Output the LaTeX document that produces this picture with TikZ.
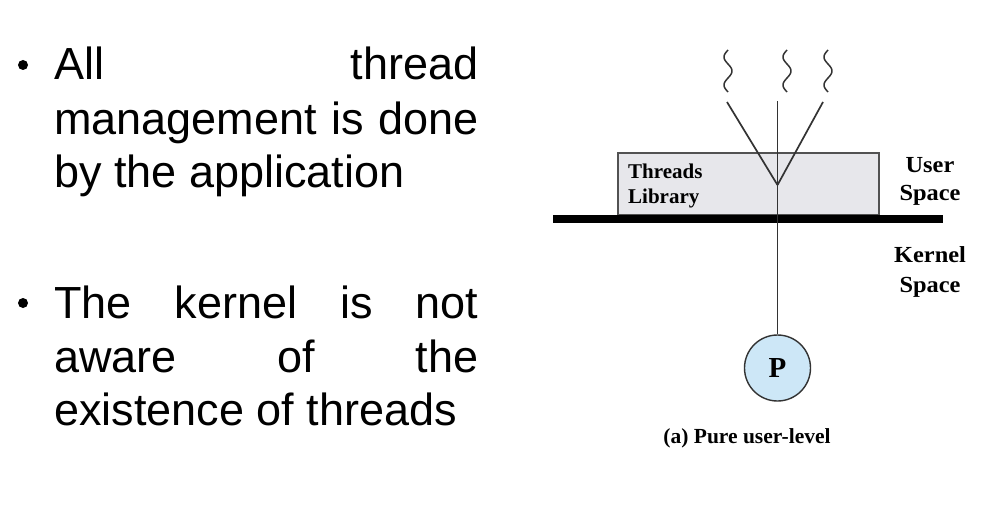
\documentclass[tikz,border=0pt]{standalone}
\usepackage{fontspec}
\setmainfont{Liberation Sans}
\newfontfamily\figfont{Liberation Serif}
\newfontfamily\sidefont{Liberation Serif}[FakeStretch=1.06]
\definecolor{libfill}{HTML}{E7E7EB}
\definecolor{pfill}{HTML}{CDE7F7}
\definecolor{linec}{HTML}{333333}
\begin{document}
\begin{tikzpicture}[x=1pt,y=-1pt,
  bodyline/.style={anchor=base west,inner sep=0pt,font=\fontsize{45}{54}\selectfont},
  bulletdot/.style={circle,fill=black,inner sep=0pt,minimum size=10pt},
  figlabel/.style={anchor=base,inner sep=0pt,font=\figfont\bfseries\fontsize{21}{25}\selectfont},
  sidelabel/.style={anchor=base,inner sep=0pt,font=\sidefont\bfseries\fontsize{23}{27}\selectfont},
  libbox/.style={draw=linec!85,fill=libfill,line width=1.3pt,minimum width=261pt,minimum height=62pt,inner sep=0pt},
  pnode/.style={circle,draw=linec,fill=pfill,line width=1.4pt,minimum size=66pt,inner sep=0pt,font=\figfont\bfseries\fontsize{29}{32}\selectfont},
  thread/.style={draw=linec,line width=1.5pt},
  wire/.style={draw=linec,line width=1.7pt}]
\path[fill=white] (0,0) rectangle (990,511);
\useasboundingbox (0,0) rectangle (990,511);
% left text
\node[bulletdot] (b1) at (23,65) {};
\node[bodyline] (l1) at (54,80) {\makebox[424pt][s]{All thread}};
\node[bodyline] (l2) at (54,134) {\makebox[424pt][s]{management is done}};
\node[bodyline] (l3) at (54,187) {by the application};
\node[bulletdot] (b2) at (23,303) {};
\node[bodyline] (l4) at (54,318) {\makebox[424pt][s]{The kernel is not}};
\node[bodyline] (l5) at (54,372) {\makebox[424pt][s]{aware of the}};
\node[bodyline] (l6) at (54,425) {existence of threads};
% diagram
\node[libbox] (lib) at (748.5,184) {};
\node[figlabel,anchor=base west] (libA) at (628,178) {Threads};
\node[figlabel,anchor=base west] (libB) at (628,203) {Library};
\fill[black] (553,215) rectangle (943,223);
\node[sidelabel] (us1) at (930,172) {User};
\node[sidelabel] (us2) at (930,200) {Space};
\node[sidelabel] (ks1) at (930,262) {Kernel};
\node[sidelabel] (ks2) at (930,292) {Space};
\coordinate (t1) at (727,102);
\coordinate (t2) at (777.5,101);
\coordinate (t3) at (823,102);
\coordinate (apex) at (777.5,185);
\node[pnode] (P) at (777.5,368) {P};
\foreach \xx in {728,787,828}
  \draw[thread] plot[domain=0:42,samples=60,smooth] ({\xx-4*sin(\x*360/28)},{50+\x});
\draw[wire] (t1) -- (apex);
\draw[wire] (t3) -- (apex);
\draw[wire] (t2) -- (P);
\node[figlabel,font=\figfont\bfseries\fontsize{21.5}{25}\selectfont] (cap) at (747,443) {(a) Pure user-level};
\end{tikzpicture}
\end{document}
